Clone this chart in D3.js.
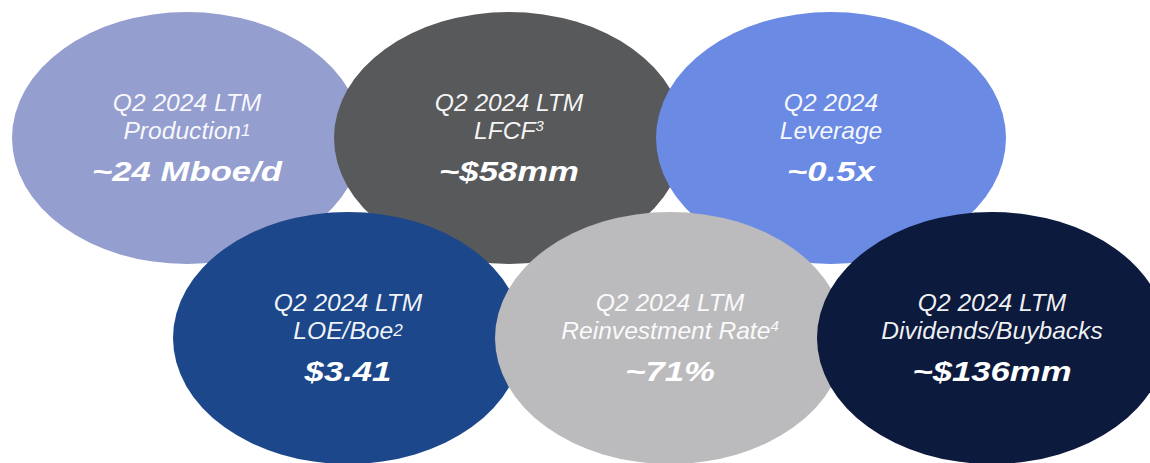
<!DOCTYPE html>
<html>
<head>
<meta charset="utf-8">
<script src="https://cdn.jsdelivr.net/npm/d3@7/dist/d3.min.js"></script>
<style>
  html, body { margin: 0; padding: 0; background: #ffffff; }
  svg { display: block; }
</style>
</head>
<body>
<svg id="chart" width="1150" height="463"></svg>
<script>
// ---- data ----
const headers   = ["Q2 2024 LTM", "Q2 2024 LTM", "Q2 2024", "Q2 2024 LTM", "Q2 2024 LTM", "Q2 2024 LTM"];
const labels    = ["Production", "LFCF", "Leverage", "LOE/Boe", "Reinvestment Rate", "Dividends/Buybacks"];
const notes     = ["1", "3", "", "2", "4", ""];
const values    = ["~24 Mboe/d", "~$58mm", "~0.5x", "$3.41", "~71%", "~$136mm"];
const slots     = [0, 2, 4, 1, 3, 5];   // horizontal slot (staggered)
const rows      = [0, 0, 0, 1, 1, 1];
const colors    = ["#949ecf", "#58595b", "#6a8ae3", "#1c478a", "#bbbbbd", "#0c1a3e"];

const items = headers.map((h, i) => ({
  header: h, label: labels[i], note: notes[i], value: values[i],
  slot: slots[i], row: rows[i], color: colors[i]
}));

const svg = d3.select("#chart");
const x = d3.scaleLinear().domain([0, 5]).range([187, 992]);
const y = d3.scaleLinear().domain([0, 1]).range([138, 338]);
const rx = 175, ry = 126;

const g = svg.selectAll("g.bubble").data(items).join("g")
  .attr("class", "bubble")
  .attr("transform", d => `translate(${x(d.slot)},${y(d.row)})`);

g.append("ellipse")
  .attr("rx", rx).attr("ry", ry)
  .attr("fill", d => d.color);

const font = "'Liberation Sans', Arial, sans-serif";
const raised = n => n === "3" || n === "4";

// header line
g.append("text")
  .attr("transform", "translate(0,-27) scale(1.07,1)")
  .attr("text-anchor", "middle")
  .attr("font-family", font).attr("font-style", "italic")
  .attr("font-size", 23).attr("fill", "#ffffff").attr("fill-opacity", 0.95)
  .text(d => d.header);

// label line with footnote
const lab = g.append("text")
  .attr("transform", "translate(0,1) scale(1.07,1)")
  .attr("text-anchor", "middle")
  .attr("font-family", font).attr("font-style", "italic")
  .attr("font-size", 23).attr("fill", "#ffffff").attr("fill-opacity", 0.95);
lab.append("tspan").text(d => d.label);
lab.filter(d => d.note).append("tspan")
  .attr("font-size", d => raised(d.note) ? 14 : 16)
  .attr("dy", d => raised(d.note) ? -8 : -3)
  .text(d => d.note);

// value line
g.append("text")
  .attr("transform", "translate(0,43) scale(1.24,1)")
  .attr("text-anchor", "middle")
  .attr("font-family", font).attr("font-style", "italic").attr("font-weight", "bold")
  .attr("font-size", 28).attr("fill", "#ffffff")
  .text(d => d.value);
</script>
</body>
</html>
